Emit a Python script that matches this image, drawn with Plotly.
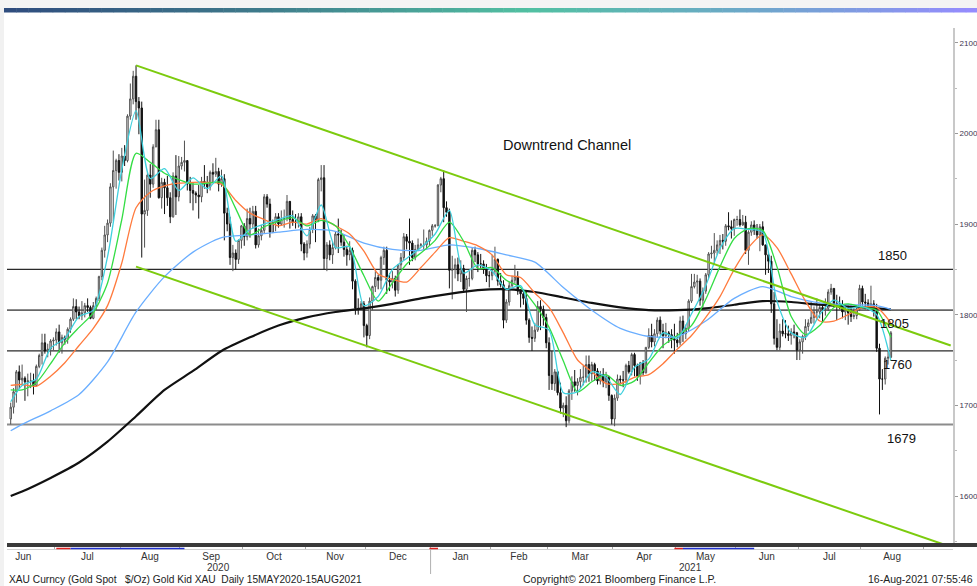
import numpy as np
import pandas as pd
import plotly.graph_objects as go

# ---------------- data ----------------
# daily candles, every weekday 8 Jun 2020 - 13 Aug 2021 (one line per month)
open_ = [
    1685,1698,1715,1737,1728,1730,1726,1727,1727,1722,1743,1755,1769,1760,1762,1771,1772,
    1781,1769,1775,1773,1784,1795,1809,1803,1799,1802,1810,1808,1796,1810,1818,1842,1871,1888,1901,1941,1959,1970,1957,
    1975,1970,2019,2038,2063,2035,2028,1911,1915,1954,1944,1985,2004,1929,1946,1940,1929,1908,1953,1930,1964,
    1968,1970,1944,1937,1934,1932,1930,1947,1944,1941,1957,1955,1958,1944,1950,1912,1900,1863,1868,1861,1882,1898,
    1886,1906,1900,1914,1877,1887,1893,1930,1922,1891,1902,1908,1900,1905,1906,1925,1905,1902,1902,1908,1878,1868,
    1878,1894,1909,1904,1949,1951,1862,1877,1866,1874,1889,1888,1880,1872,1866,1871,1837,1807,1806,1812,1788,
    1777,1815,1831,1841,1838,1863,1871,1838,1836,1840,1827,1855,1863,1886,1881,1879,1863,1872,1877,1877,1877,1881,1893,
    1898,1898,1943,1950,1918,1913,1849,1850,1855,1845,1851,1828,1840,1840,1871,1866,1856,1856,1850,1843,1843,
    1848,1861,1837,1833,1794,1814,1832,1838,1842,1826,1823,1818,1794,1775,1774,1783,1809,1806,1797,1769,
    1733,1724,1737,1714,1697,1700,1683,1716,1726,1722,1726,1731,1731,1745,1735,1745,1738,1727,1734,1726,1732,1711,1685,
    1708,1729,1728,1728,1744,1737,1756,1744,1732,1747,1736,1764,1777,1770,1779,1794,1782,1777,1780,1778,1773,1772,
    1769,1793,1779,1785,1815,1831,1836,1837,1816,1826,1844,1867,1868,1871,1877,1882,1881,1898,1897,1895,1905,
    1905,1899,1902,1871,1891,1899,1893,1888,1897,1877,1866,1859,1812,1774,1764,1782,1779,1779,1777,1781,1780,1761,
    1770,1776,1787,1791,1797,1803,1803,1808,1806,1807,1825,1829,1812,1812,1810,1803,1806,1802,1798,1799,1806,1829,
    1814,1813,1810,1812,1804,1763,1729,1729,1752,1753,
]
high = [
    1703,1719,1739,1744,1745,1732,1735,1736,1735,1745,1757,1779,1779,1768,1773,1775,1785,
    1789,1778,1777,1786,1797,1818,1817,1809,1815,1813,1818,1810,1814,1820,1843,1874,1898,1905,1945,1981,1972,1977,1984,
    1987,2021,2055,2069,2075,2040,2035,1949,1957,1966,1988,2015,2015,1951,1950,1953,1935,1957,1976,1975,1974,
    1992,1970,1952,1945,1936,1943,1952,1965,1953,1959,1967,1973,1962,1960,1955,1918,1908,1877,1872,1883,1899,1901,
    1917,1918,1920,1920,1895,1899,1933,1933,1928,1905,1912,1912,1915,1916,1932,1925,1915,1911,1912,1912,1880,1882,
    1897,1911,1911,1951,1965,1965,1880,1882,1881,1892,1906,1894,1888,1876,1881,1874,1839,1818,1815,1815,1790,
    1819,1832,1848,1844,1865,1875,1875,1846,1848,1843,1856,1868,1890,1889,1906,1882,1877,1884,1879,1894,1885,1894,1900,
    1900,1944,1952,1959,1925,1917,1865,1862,1863,1860,1855,1843,1848,1874,1875,1869,1867,1860,1856,1848,1866,
    1875,1862,1846,1838,1817,1836,1843,1855,1848,1828,1828,1825,1796,1787,1791,1815,1816,1810,1801,1775,
    1760,1740,1738,1725,1703,1710,1718,1732,1739,1730,1740,1744,1755,1755,1748,1747,1741,1738,1741,1737,1732,1712,1712,
    1734,1733,1738,1746,1749,1758,1758,1746,1748,1750,1764,1785,1790,1784,1797,1798,1790,1791,1782,1784,1790,1780,
    1798,1799,1789,1817,1845,1845,1844,1840,1830,1846,1869,1876,1890,1882,1888,1889,1900,1913,1904,1906,1909,
    1916,1910,1909,1893,1903,1904,1900,1900,1903,1877,1869,1865,1825,1795,1790,1795,1794,1788,1785,1789,1781,1773,
    1778,1795,1795,1815,1809,1818,1812,1810,1818,1828,1834,1829,1822,1820,1816,1810,1810,1810,1807,1810,1833,1832,
    1823,1817,1832,1816,1812,1768,1740,1754,1760,1782,
]
low = [
    1679,1691,1703,1718,1723,1705,1710,1719,1712,1722,1741,1745,1757,1753,1755,1761,1766,
    1758,1757,1767,1768,1780,1793,1795,1795,1794,1797,1803,1795,1795,1805,1815,1838,1863,1880,1897,1903,1939,1948,1947,
    1964,1968,2015,2032,2015,1999,1863,1874,1909,1929,1940,1985,1928,1917,1911,1920,1901,1907,1910,1925,1960,
    1958,1937,1923,1915,1923,1906,1924,1939,1934,1937,1945,1952,1936,1941,1882,1892,1855,1848,1850,1856,1873,1876,
    1882,1885,1895,1873,1874,1882,1890,1918,1885,1890,1892,1896,1898,1896,1903,1895,1898,1895,1896,1870,1860,1863,
    1873,1890,1880,1902,1936,1850,1848,1860,1856,1872,1868,1876,1864,1854,1860,1828,1800,1800,1805,1775,1764,
    1773,1805,1825,1828,1828,1855,1823,1826,1829,1820,1823,1850,1860,1872,1855,1859,1860,1870,1875,1871,1872,1876,1887,
    1896,1898,1935,1902,1908,1829,1817,1840,1837,1836,1825,1803,1831,1838,1858,1847,1850,1845,1836,1830,1838,
    1845,1832,1830,1785,1791,1810,1830,1834,1822,1808,1811,1789,1769,1760,1770,1781,1783,1788,1763,1717,
    1717,1716,1711,1691,1687,1676,1680,1706,1715,1711,1719,1722,1725,1726,1727,1727,1723,1723,1720,1719,1705,1679,1677,
    1705,1723,1720,1724,1735,1733,1732,1727,1723,1733,1735,1762,1764,1765,1775,1778,1763,1774,1769,1763,1757,1764,
    1766,1770,1773,1782,1813,1829,1823,1810,1808,1823,1840,1862,1856,1866,1867,1872,1876,1893,1884,1887,1898,
    1897,1898,1867,1855,1887,1888,1884,1870,1876,1844,1846,1802,1767,1761,1761,1776,1774,1771,1767,1774,1750,1750,
    1757,1772,1782,1790,1790,1794,1796,1791,1799,1804,1822,1808,1794,1806,1796,1794,1789,1792,1795,1795,1804,1810,
    1806,1805,1806,1798,1759,1690,1717,1723,1745,1752,
]
close = [
    1698,1715,1737,1728,1730,1726,1727,1727,1722,1743,1755,1769,1760,1762,1771,1772,1781,
    1769,1775,1773,1784,1795,1809,1803,1799,1802,1810,1808,1796,1810,1818,1842,1871,1888,1901,1941,1959,1970,1957,1975,
    1970,2019,2038,2063,2035,2028,1911,1915,1954,1944,1985,2004,1929,1946,1940,1929,1908,1953,1930,1964,1968,
    1970,1944,1937,1934,1932,1930,1947,1944,1941,1957,1955,1958,1944,1950,1912,1900,1863,1868,1861,1882,1898,1886,
    1906,1900,1914,1877,1887,1893,1930,1922,1891,1902,1908,1900,1905,1906,1925,1905,1902,1902,1908,1878,1868,1878,
    1894,1909,1904,1949,1951,1862,1877,1866,1874,1889,1888,1880,1872,1866,1871,1837,1807,1806,1812,1788,1777,
    1815,1831,1841,1838,1863,1871,1838,1836,1840,1827,1855,1863,1886,1881,1879,1863,1872,1877,1877,1877,1881,1893,1898,
    1898,1943,1950,1918,1913,1849,1850,1855,1845,1851,1828,1840,1840,1871,1866,1856,1856,1850,1843,1843,1848,
    1861,1837,1833,1794,1814,1832,1838,1842,1826,1823,1818,1794,1775,1774,1783,1809,1806,1797,1769,1733,
    1724,1737,1714,1697,1700,1683,1716,1726,1722,1726,1731,1731,1745,1735,1745,1738,1727,1734,1726,1732,1711,1685,1708,
    1729,1728,1728,1744,1737,1756,1744,1732,1747,1736,1764,1777,1770,1779,1794,1782,1777,1780,1778,1773,1772,1769,
    1793,1779,1785,1815,1831,1836,1837,1816,1826,1844,1867,1868,1871,1877,1882,1881,1898,1897,1895,1905,1905,
    1899,1902,1871,1891,1899,1893,1888,1897,1877,1866,1859,1812,1774,1764,1782,1779,1779,1777,1781,1780,1761,1770,
    1776,1787,1791,1797,1803,1803,1808,1806,1807,1825,1829,1812,1812,1810,1803,1806,1802,1798,1799,1806,1829,1814,
    1813,1810,1812,1804,1763,1729,1729,1752,1753,1780,
]
candle_dates = pd.bdate_range("2020-06-08", "2021-08-13")

# moving averages (8 Jun 2020, then every Friday)
ma_fridays = list(pd.date_range("2020-06-12", "2021-08-13", freq="W-FRI"))
ma_short_dates = [pd.Timestamp("2020-06-08")] + ma_fridays
ma5 = [1704,
    1722,1729,1763,1774,1798,1805,1864,1960,2025,1950,1961,1937,1951,1939,1953,1881,1894,1900,1905,1909,1887,
    1921,1874,1875,1810,1820,1850,1862,1874,1889,1915,1846,1855,1848,1828,1832,1789,1783,1714,1715,1737,1731,
    1712,1742,1751,1780,1774,1801,1832,1873,1895,1894,1891,1815,1780,1775,1800,1816,1807,1809,1800,1749]
ma10 = [1717,
    1717,1725,1746,1769,1786,1802,1835,1905,1978,1968,1956,1949,1944,1945,1946,1917,1888,1897,1903,1907,1898,
    1904,1898,1875,1843,1815,1835,1856,1868,1882,1902,1881,1851,1852,1838,1830,1811,1786,1749,1715,1726,1734,
    1722,1727,1747,1766,1777,1788,1817,1853,1884,1895,1893,1853,1798,1778,1788,1808,1812,1808,1805,1775]
ma20 = [1722,
    1723,1721,1732,1747,1766,1785,1810,1857,1918,1935,1942,1945,1946,1946,1944,1926,1912,1905,1898,1902,1900,
    1906,1898,1889,1870,1845,1839,1836,1852,1869,1885,1881,1876,1866,1844,1841,1824,1808,1780,1750,1737,1724,
    1724,1731,1734,1746,1762,1777,1797,1820,1850,1874,1888,1874,1845,1815,1793,1793,1800,1808,1808,1791]
# slower averages read every second Friday
ma_long_dates = [pd.Timestamp("2020-06-08")] + ma_fridays[::2] + [pd.Timestamp("2021-08-13")]
ma50 = [1672,
    1679,1694,1712,1748,1803,1842,1869,1885,1888,1891,1894,1892,1879,1872,1871,1877,
    1873,1866,1858,1830,1805,1785,1776,1776,1793,1818,1831,1820,1813,1811,1810,
    1806]
ma200 = [1600,
    1605,1620,1637,1660,1688,1717,1738,1760,1775,1788,1797,1803,1807,1812,1818,1823,
    1827,1828,1825,1819,1813,1808,1805,1805,1807,1811,1815,1814,1811,1809,1807,
    1806]

# trend channel (start / end points) and horizontal levels
trend_dates = ["2020-08-07", "2021-09-13"]
trend_upper = [2075, 1766]
trend_lower = [1853, 1544]
levels = [1850, 1805, 1760, 1679]
level_labels = ["1850", "1805", "1760", "1679"]

month_names = ["Jun", "Jul", "Aug", "Sep", "Oct", "Nov", "Dec", "Jan", "Feb", "Mar",
               "Apr", "May", "Jun", "Jul", "Aug"]
y_ticks = [1600, 1700, 1800, 1900, 2000, 2100]

# signal strip under the chart (red / blue segments)
signal_red = [("2020-06-30", "2020-07-07"), ("2020-12-30", "2021-01-04"), ("2021-04-29", "2021-05-04")]
signal_blue = [("2020-07-07", "2020-09-01"), ("2021-05-04", "2021-06-08")]

assert len(open_) == len(high) == len(low) == len(close) == len(candle_dates), (
    len(open_), len(high), len(low), len(close), len(candle_dates))
assert len(ma5) == len(ma10) == len(ma20) == len(ma_short_dates)
assert len(ma50) == len(ma200) == len(ma_long_dates)

# ---------------- helpers ----------------
BASE = np.datetime64("2020-07-01")


def bx(d):
    """weekday index of a date (0 = 1 Jul 2020)"""
    d = np.array(pd.to_datetime(d), dtype="datetime64[D]")
    return np.busday_count(BASE, d)


W, H = 977, 586
PL, PR, PT, PB = 7, 953, 28, 543


def px(x):
    return (x - PL) / (PR - PL)


def py(y):
    return (PB - y) / (PB - PT)


x_c = bx(candle_dates)
fig = go.Figure()
fig.add_trace(go.Candlestick(
    x=x_c, open=open_, high=high, low=low, close=close,
    increasing=dict(line=dict(color="#505050", width=1), fillcolor="#ffffff"),
    decreasing=dict(line=dict(color="#111111", width=1), fillcolor="#111111"),
    whiskerwidth=0, hoverinfo="skip"))

for vals, dts, col, wd in [
    (ma200, ma_long_dates, "#111111", 2.2),
    (ma50, ma_long_dates, "#6aaeff", 1.3),
    (ma20, ma_short_dates, "#ff7a3d", 1.3),
    (ma10, ma_short_dates, "#33dd44", 1.3),
    (ma5, ma_short_dates, "#3fd0de", 1.3),
]:
    fig.add_trace(go.Scatter(x=bx(dts), y=vals, mode="lines",
                             line=dict(color=col, width=wd, shape="spline", smoothing=0.7),
                             hoverinfo="skip"))

for tv in (trend_upper, trend_lower):
    fig.add_trace(go.Scatter(x=bx(trend_dates), y=tv, mode="lines",
                             line=dict(color="#7ccb0e", width=2), hoverinfo="skip"))

# month boundaries and label centres
mstarts = pd.date_range("2020-06-01", "2021-09-01", freq="MS")
bounds = [float(bx(m)) - 1.6 for m in mstarts]
centers = [(bounds[i] + bounds[i + 1]) / 2 for i in range(len(bounds) - 1)]

shapes = []
# level lines
lvl_style = {1850: ("#2a2a2a", 1.2), 1805: ("#666666", 1.6), 1760: ("#2a2a2a", 1.2), 1679: ("#8c8c8c", 2)}
for lv in levels:
    c, w = lvl_style[lv]
    shapes.append(dict(type="line", xref="paper", yref="y", x0=0, x1=1, y0=lv, y1=lv,
                       line=dict(color=c, width=w), layer="below"))
# gray frame strips
shapes.append(dict(type="rect", xref="paper", yref="paper", x0=px(-5), x1=px(982), y0=py(-5), y1=py(8),
                   fillcolor="#f4f4f4", line=dict(width=0), layer="below"))
shapes.append(dict(type="rect", xref="paper", yref="paper", x0=px(-5), x1=px(4), y0=py(600), y1=py(8),
                   fillcolor="#f1f1f1", line=dict(width=0), layer="below"))
# gradient bar on top
anchors = [(0.0, (47, 76, 126)), (0.25, (62, 120, 138)), (0.54, (82, 192, 162)),
           (0.78, (111, 166, 204)), (1.0, (150, 139, 255))]


def grad(t):
    for (t0, c0), (t1, c1) in zip(anchors[:-1], anchors[1:]):
        if t <= t1:
            f = (t - t0) / (t1 - t0)
            return "rgb(%d,%d,%d)" % tuple(round(a + (b - a) * f) for a, b in zip(c0, c1))
    return "rgb(%d,%d,%d)" % anchors[-1][1]


N = 80
gx0, gx1 = 4, 978
for k in range(N):
    xa = gx0 + (gx1 - gx0) * k / N
    xb = gx0 + (gx1 - gx0) * (k + 1) / N + 0.5
    shapes.append(dict(type="rect", xref="paper", yref="paper", x0=px(xa), x1=px(xb),
                       y0=py(12.5), y1=py(8), fillcolor=grad((k + 0.5) / N), line=dict(width=0)))
# dark bar under the chart and thin strip line
shapes.append(dict(type="rect", xref="paper", yref="paper", x0=px(7), x1=px(980), y0=py(547), y1=py(543),
                   fillcolor="#3a3a3a", line=dict(width=0)))
shapes.append(dict(type="line", xref="paper", yref="paper", x0=px(7), x1=px(953), y0=py(549.5), y1=py(549.5),
                   line=dict(color="#d0d0d0", width=1)))
for seg_list, col in ((signal_red, "#e02020"), (signal_blue, "#2030d0")):
    for a, b in seg_list:
        shapes.append(dict(type="line", xref="x", yref="paper", x0=float(bx(a)), x1=float(bx(b)),
                           y0=py(548.5), y1=py(548.5), line=dict(color=col, width=1.5)))
# year separator
jan_b = bounds[7]
shapes.append(dict(type="line", xref="x", yref="paper", x0=jan_b, x1=jan_b, y0=py(549), y1=py(574),
                   line=dict(color="#b0b0b0", width=1)))

ann = []
F = "Liberation Sans, Arial, sans-serif"
ann.append(dict(text="Downtrend Channel", x=px(567), y=py(145), font=dict(size=14.5, color="#111", family=F)))
for lbl, (xx, yy) in zip(level_labels, [(892, 256), (894, 323), (897, 364), (901, 438)]):
    ann.append(dict(text=lbl, x=px(xx), y=py(yy), font=dict(size=13, color="#111", family=F)))
ann.append(dict(text="2020", x=px(218), y=py(567), font=dict(size=10, color="#333", family=F)))
ann.append(dict(text="2021", x=px(690), y=py(567), font=dict(size=10, color="#333", family=F)))
ann.append(dict(text="XAU Curncy (Gold Spot\u00a0\u00a0 $/Oz) Gold Kid XAU\u00a0 Daily 15MAY2020-15AUG2021",
                x=px(7), y=py(579), xanchor="left", font=dict(size=10.2, color="#222", family=F)))
ann.append(dict(text="Copyright\u00a9 2021 Bloomberg Finance L.P.", x=px(619), y=py(579),
                font=dict(size=10.5, color="#222", family=F)))
ann.append(dict(text="16-Aug-2021 07:55:46", x=px(975), y=py(579), xanchor="right",
                font=dict(size=10.5, color="#222", family=F)))
for a in ann:
    a.update(xref="paper", yref="paper", showarrow=False, yanchor="middle")
    a.setdefault("xanchor", "center")

fig.update_layout(
    width=W, height=H,
    margin=dict(l=PL, r=W - PR, t=PT, b=H - PB, pad=0, autoexpand=False),
    paper_bgcolor="#ffffff", plot_bgcolor="#ffffff",
    showlegend=False, hovermode=False,
    shapes=shapes, annotations=ann,
    xaxis=dict(type="linear", range=[-18.3, 313.8], rangeslider=dict(visible=False),
               showgrid=False, zeroline=False, showline=False, automargin=False,
               tickmode="array", tickvals=centers, ticktext=month_names, ticks="",
               tickfont=dict(size=10, color="#333", family=F), ticklabelstandoff=6,
               minor=dict(tickmode="array", tickvals=bounds, ticks="outside", ticklen=5,
                          tickcolor="#a8a8a8", tickwidth=1, showgrid=False)),
    yaxis=dict(side="right", range=[1548.2, 2116.2], showgrid=False, zeroline=False,
               showline=True, linecolor="#c8c8c8", linewidth=2, automargin=False,
               tickmode="array", tickvals=y_ticks, ticks="outside", ticklen=3, tickcolor="#999",
               tickfont=dict(size=8, color="#3d3550", family=F),
               minor=dict(tickmode="array", tickvals=[1550, 1650, 1750, 1850, 1950, 2050],
                          ticks="outside", ticklen=2, tickcolor="#bbb", showgrid=False)),
)

fig.write_html("out.html", config={"displayModeBar": False},
               post_script="document.body.style.margin='0';")
